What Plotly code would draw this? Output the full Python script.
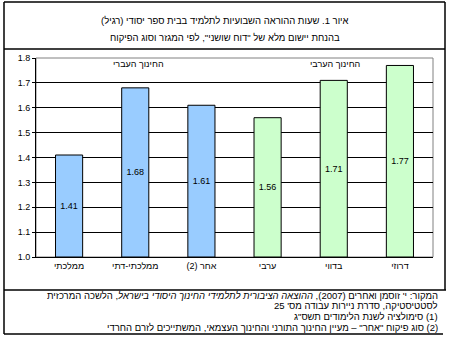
import plotly.graph_objects as go

# Weekly teaching hours per pupil, by sector and supervision type
categories = ["ממלכתי", "ממלכתי-דתי", "אחר (2)", "ערבי", "בדווי", "דרוזי"]
hours = [1.41, 1.68, 1.61, 1.56, 1.71, 1.77]
bar_colors = ["#99CCFF", "#99CCFF", "#99CCFF", "#CCFFCC", "#CCFFCC", "#CCFFCC"]
y_ticks = [1.0, 1.1, 1.2, 1.3, 1.4, 1.5, 1.6, 1.7, 1.8]

title_lines = [
    "איור 1. שעות ההוראה השבועיות לתלמיד בבית ספר יסודי (רגיל)",
    "בהנחת יישום מלא של \"דוח שושני\", לפי המגזר וסוג הפיקוח",
]
group_labels = ["החינוך העברי", "החינוך הערבי"]
footer_lines = [
    "המקור: י' זוסמן ואחרים (2007), <i>ההוצאה הציבורית לתלמידי החינוך היסודי בישראל</i>, הלשכה המרכזית",
    "לסטטיסטיקה, סדרת ניירות עבודה מס' 25",
    "(1) סימולציה לשנת הלימודים תשס\"ג",
    "(2) סוג פיקוח \"אחר\" – מעיין החינוך התורני והחינוך העצמאי, המשתייכים לזרם החרדי",
]

FONT = "Liberation Sans, Arial, DejaVu Sans, sans-serif"
W, H = 450, 337
PL, PR, PT, PB = 36, 433, 58, 257


def rtl(s):
    return "\u202B" + s + "\u202C"


def px(x):
    return (x - PL) / (PR - PL)


def py(y):
    return (PB - y) / (PB - PT)


fig = go.Figure()
fig.add_trace(go.Bar(
    x=[rtl(c) for c in categories],
    y=[v - 1.0 for v in hours],
    base=1.0,
    marker=dict(color=bar_colors, line=dict(color="black", width=1)),
    text=[f"{v:.2f}" for v in hours],
    textposition="inside",
    insidetextanchor="middle",
    textangle=0,
    textfont=dict(family=FONT, size=9, color="black"),
    hoverinfo="skip",
))

shapes = []
# plot area border
shapes.append(dict(type="rect", xref="paper", yref="paper", x0=0, x1=1, y0=0, y1=1,
                   line=dict(color="#808080", width=1), layer="below"))
# outer frame and separators
frame = dict(color="black", width=1.5)
shapes += [
    dict(type="line", xref="paper", yref="paper", x0=px(4), x1=px(445), y0=py(2), y1=py(2), line=frame),
    dict(type="line", xref="paper", yref="paper", x0=px(4), x1=px(445), y0=py(49), y1=py(49), line=frame),
    dict(type="line", xref="paper", yref="paper", x0=px(4), x1=px(446), y0=py(290), y1=py(290), line=frame),
    dict(type="line", xref="paper", yref="paper", x0=px(4), x1=px(443), y0=py(334), y1=py(334), line=frame),
    dict(type="line", xref="paper", yref="paper", x0=px(4), x1=px(4), y0=py(2), y1=py(334), line=frame),
    dict(type="line", xref="paper", yref="paper", x0=px(445), x1=px(445), y0=py(2), y1=py(290), line=frame),
]

annotations = []
for line, yy in zip(title_lines, [21, 37]):
    annotations.append(dict(text=rtl(line), xref="paper", yref="paper", x=px(225), y=py(yy),
                            xanchor="center", yanchor="middle", showarrow=False,
                            font=dict(family=FONT, size=9.5, color="black")))
for label, xx in zip(group_labels, [138, 335]):
    annotations.append(dict(text=rtl(label), xref="paper", yref="paper", x=px(xx), y=py(64),
                            xanchor="center", yanchor="middle", showarrow=False,
                            font=dict(family=FONT, size=9, color="black")))
for line, yy in zip(footer_lines, [295, 305, 316, 327]):
    annotations.append(dict(text=rtl(line), xref="paper", yref="paper", x=px(440), y=py(yy),
                            xanchor="right", yanchor="middle", showarrow=False,
                            font=dict(family=FONT, size=9.5, color="black")))

fig.update_layout(
    width=W, height=H,
    margin=dict(l=PL, r=W - PR, t=PT, b=H - PB, pad=0),
    paper_bgcolor="white", plot_bgcolor="white",
    showlegend=False,
    bargap=0.59,
    font=dict(family=FONT, size=9, color="black"),
    xaxis=dict(
        showline=True, linecolor="black", linewidth=1,
        ticks="", showgrid=False,
        tickfont=dict(family=FONT, size=9, color="black"),
        fixedrange=True,
    ),
    yaxis=dict(
        range=[1.0, 1.8], tickvals=y_ticks, tickformat=".1f",
        showline=True, linecolor="black", linewidth=1,
        ticks="outside", ticklen=3, tickcolor="black",
        showgrid=True, gridcolor="black", gridwidth=1,
        zeroline=False,
        tickfont=dict(family=FONT, size=9, color="black"),
        fixedrange=True,
    ),
    shapes=shapes,
    annotations=annotations,
)

fig.write_html("out.html")
